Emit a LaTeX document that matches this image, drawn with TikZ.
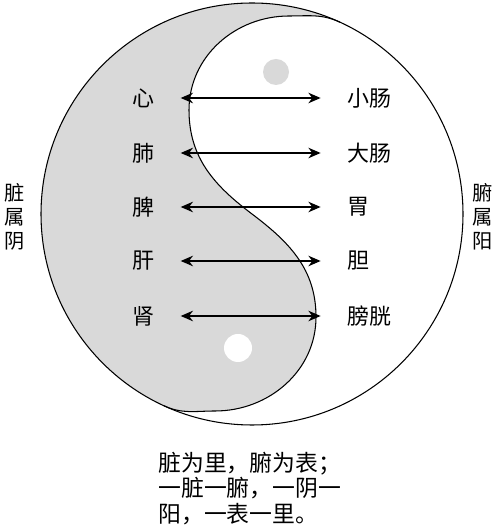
\documentclass[tikz,border=0pt]{standalone}
\usepackage{fontspec}
\setmainfont{Noto Sans CJK SC}
\usepackage{tikz}
\usetikzlibrary{calc}
\usetikzlibrary{arrows.meta}
\definecolor{yingray}{RGB}{217,217,217}
\begin{document}
\begin{tikzpicture}[>={Stealth[length=7pt,width=6pt]},
    zang/.style={inner sep=0pt,font=\fontsize{12.5}{14}\selectfont},
    fu/.style={inner sep=0pt,anchor=west,font=\fontsize{12.5}{14}\selectfont},
    side/.style={inner sep=0pt,align=center,font=\fontsize{11.5}{13.6}\selectfont},
    link/.style={<->,line width=0.8pt,shorten <=15pt,shorten >=15pt}]
            \useasboundingbox(0,0)rectangle(10,10.54);
            \coordinate(O)at(5.04,6.26);
            \coordinate(ptop)at($(O)+(65.35:4.22)$);
            \coordinate(pbot)at($(O)+(245.35:4.22)$);
            % 阴鱼
            \fill[yingray](ptop)arc[start angle=65.35,end angle=245.35,radius=4.22]
                to[out=-25,in=180](4.30,2.32)to[out=0,in=-90](6.32,4.20)
                to[out=90,in=-37](O)to[out=143,in=-90](3.78,8.34)
                to[out=90,in=180](5.78,10.22)to[out=0,in=155](ptop)--cycle;
            \draw[line width=0.6pt](pbot)to[out=-25,in=180](4.30,2.32)to[out=0,in=-90](6.32,4.20)
                to[out=90,in=-37](O)to[out=143,in=-90](3.78,8.34)
                to[out=90,in=180](5.78,10.22)to[out=0,in=155](ptop);
            \draw[line width=0.6pt](O)circle(4.22);
            \fill[yingray](5.52,9.10)circle(0.26);
            \fill[white](4.76,3.58)circle(0.28);
            % 脏腑
            \node[zang](xin)at(2.86,8.58){心};
            \node[zang](fei)at(2.86,7.48){肺};
            \node[zang](pi)at(2.86,6.40){脾};
            \node[zang](gan)at(2.86,5.32){肝};
            \node[zang](shen)at(2.86,4.22){肾};
            \node[fu](xiaochang)at(6.94,8.58){小肠};
            \node[fu](dachang)at(6.94,7.48){大肠};
            \node[fu](wei)at(6.94,6.40){胃};
            \node[fu](dan)at(6.94,5.32){胆};
            \node[fu](pangguang)at(6.94,4.22){膀胱};
            \draw[link](xin.east)--(xiaochang.west);
            \draw[link](fei.east)--(dachang.west);
            \draw[link](pi.east)--(wei.west);
            \draw[link](gan.east)--(dan.west);
            \draw[link](shen.east)--(pangguang.west);
            \node[side](yin)at(0.30,6.20){脏\\属\\阴};
            \node[side](yang)at(9.66,6.20){腑\\属\\阳};
            \node[inner sep=0pt,anchor=west,align=left,font=\fontsize{13}{14.7}\selectfont](note)at(3.16,0.77){脏为里，腑为表；\\一脏一腑，一阴一\\阳，一表一里。};
        \end{tikzpicture}
\end{document}
